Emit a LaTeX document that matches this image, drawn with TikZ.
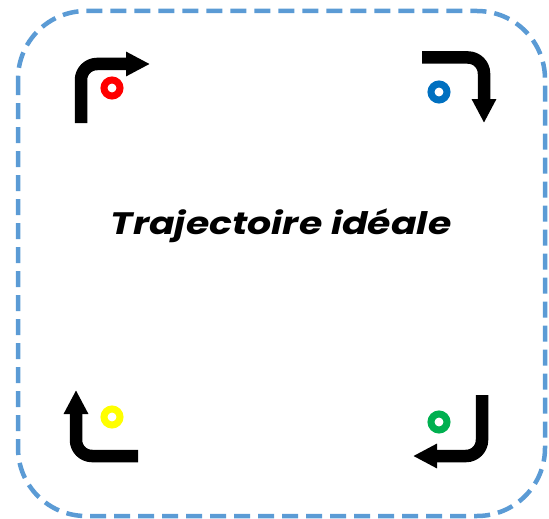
\documentclass[tikz,border=0pt]{standalone}
\usepackage{fontspec}
\setmainfont{Poppins}
\usetikzlibrary{arrows.meta}
\definecolor{borderblue}{HTML}{5B9BD5}
\definecolor{ringred}{HTML}{FF0000}
\definecolor{ringblue}{HTML}{0070C0}
\definecolor{ringyellow}{HTML}{FFFF00}
\definecolor{ringgreen}{HTML}{00B050}
\begin{document}
\begin{tikzpicture}[x=1pt,y=-1pt,
  turnarrow/.style={line width=12.5pt, rounded corners=16pt, -{Triangle[width=23pt,length=24pt]}},
  ring/.style={draw=#1, line width=7pt, circle, minimum size=16pt, inner sep=0pt},
  frame/.style={draw=borderblue, line width=4.5pt, rounded corners=68pt, dash pattern=on 16pt off 8pt},
  title/.style={font=\fontsize{31}{36}\selectfont\bfseries\itshape}]
\useasboundingbox (0,0) rectangle (549,519);
\draw[frame] (18,11) rectangle (545,516);
\node[title] (t) at (281,226) {\scalebox{1.22}[1]{Trajectoire idéale}};
% top-left
\coordinate (a1) at (81,123); \coordinate (a2) at (81,64); \coordinate (a3) at (150,64);
\draw[turnarrow] (a1) -- (a2) -- (a3);
\node[ring=ringred] (r1) at (112,88) {};
% top-right
\coordinate (b1) at (422,57.5); \coordinate (b2) at (484,57.5); \coordinate (b3) at (484,123);
\draw[turnarrow] (b1) -- (b2) -- (b3);
\node[ring=ringblue] (r2) at (439,92) {};
% bottom-left
\coordinate (c1) at (138,456); \coordinate (c2) at (76,456); \coordinate (c3) at (76,390);
\draw[turnarrow] (c1) -- (c2) -- (c3);
\node[ring=ringyellow] (r3) at (112,417) {};
% bottom-right
\coordinate (d1) at (482,395); \coordinate (d2) at (482,456); \coordinate (d3) at (413,456);
\draw[turnarrow] (d1) -- (d2) -- (d3);
\node[ring=ringgreen] (r4) at (439,422) {};
\end{tikzpicture}
\end{document}
